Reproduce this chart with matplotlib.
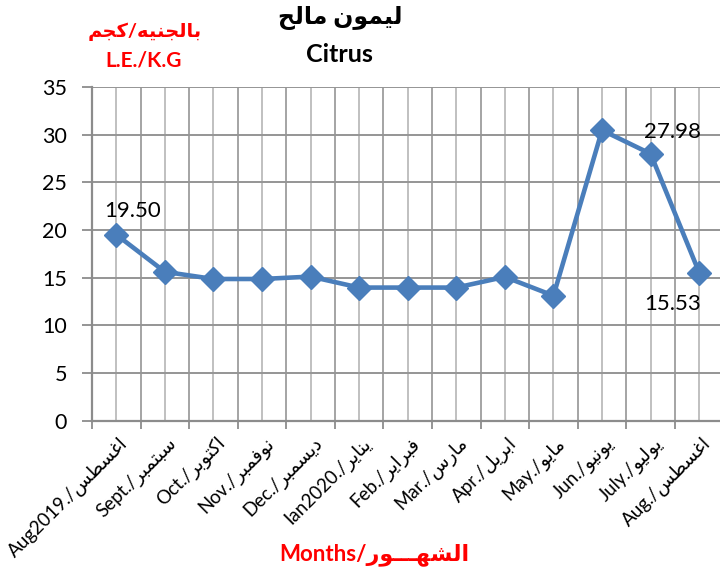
import numpy as np
import matplotlib
matplotlib.use("Agg")
import matplotlib.pyplot as plt
from matplotlib.ticker import MultipleLocator, FixedLocator

# DATA
months_en = ["Aug2019.", "Sept.", "Oct.", "Nov.", "Dec.", "Ian2020.", "Feb.",
             "Mar.", "Apr.", "May.", "Jun.", "July.", "Aug."]
months_ar = ["اغسطس", "سبتمبر", "اكتوبر", "نوفمبر", "ديسمبر", "يناير", "فبراير",
             "مارس", "ابريل", "مايو", "يونيو", "يوليو", "اغسطس"]
prices = [19.50, 15.60, 14.85, 14.85, 15.10, 13.95, 13.95,
          13.95, 15.07, 13.10, 30.45, 27.98, 15.53]
labelled = {0: "19.50", 11: "27.98", 12: "15.53"}

# minimal arabic shaping (no reshaper lib here): isolated, final, initial, medial
FORMS = {
    "ا": (0xFE8D, 0xFE8E, None, None), "ب": (0xFE8F, 0xFE90, 0xFE91, 0xFE92),
    "ت": (0xFE95, 0xFE96, 0xFE97, 0xFE98), "ج": (0xFE9D, 0xFE9E, 0xFE9F, 0xFEA0),
    "ح": (0xFEA1, 0xFEA2, 0xFEA3, 0xFEA4), "د": (0xFEA9, 0xFEAA, None, None),
    "ر": (0xFEAD, 0xFEAE, None, None), "س": (0xFEB1, 0xFEB2, 0xFEB3, 0xFEB4),
    "ش": (0xFEB5, 0xFEB6, 0xFEB7, 0xFEB8), "ط": (0xFEC1, 0xFEC2, 0xFEC3, 0xFEC4),
    "غ": (0xFECD, 0xFECE, 0xFECF, 0xFED0), "ف": (0xFED1, 0xFED2, 0xFED3, 0xFED4),
    "ك": (0xFED9, 0xFEDA, 0xFEDB, 0xFEDC), "ل": (0xFEDD, 0xFEDE, 0xFEDF, 0xFEE0),
    "م": (0xFEE1, 0xFEE2, 0xFEE3, 0xFEE4), "ن": (0xFEE5, 0xFEE6, 0xFEE7, 0xFEE8),
    "ه": (0xFEE9, 0xFEEA, 0xFEEB, 0xFEEC), "و": (0xFEED, 0xFEEE, None, None),
    "ي": (0xFEF1, 0xFEF2, 0xFEF3, 0xFEF4),
}
TATWEEL = "ـ"


def dual(c):
    return c == TATWEEL or (c in FORMS and FORMS[c][2] is not None)


def joinable(c):
    return c == TATWEEL or c in FORMS


def ar(s):
    out = []
    for i, c in enumerate(s):
        if c not in FORMS:
            out.append(c)
            continue
        prev_j = i > 0 and dual(s[i - 1])
        next_j = dual(c) and i + 1 < len(s) and joinable(s[i + 1])
        iso, fin, ini, med = FORMS[c]
        if prev_j and next_j:
            code = med
        elif prev_j:
            code = fin
        elif next_j:
            code = ini
        else:
            code = iso
        out.append(chr(code))
    # visual order, right to left
    return "".join(out)[::-1]


plt.rcParams["font.family"] = ["Lato", "DejaVu Sans"]

fig = plt.figure(figsize=(7.2, 5.75), dpi=100)
ax = fig.add_axes([0.1278, 0.2685, 0.877, 0.5805])

x = np.arange(len(prices))
ax.plot(x, prices, color="#4a7ebb", lw=3.3, marker="D", ms=12,
        mfc="#4a7ebb", mec="#4a7ebb", zorder=5, clip_on=False)

ax.set_xlim(-0.5, len(prices) - 0.5)
ax.set_ylim(0, 35)
ax.yaxis.set_major_locator(MultipleLocator(5))
ax.xaxis.set_major_locator(FixedLocator(np.arange(-0.5, len(prices), 1.0)))
ax.xaxis.set_minor_locator(FixedLocator(x))
ax.set_xticklabels([])

ax.grid(axis="y", color="#959595", lw=1.4)
ax.grid(axis="x", which="major", color="#a4a4a4", lw=1.4)
ax.grid(axis="x", which="minor", color="#c0c0c0", lw=1.4)
ax.set_axisbelow(True)

for side in ["top", "right"]:
    ax.spines[side].set_visible(False)
for side in ["left", "bottom"]:
    ax.spines[side].set_color("#8c8c8c")
    ax.spines[side].set_linewidth(1.6)

ax.tick_params(axis="y", which="major", length=7, width=1.3, color="#8c8c8c",
               labelsize=15.5, pad=11)
ax.tick_params(axis="x", which="major", length=6, width=1.3, color="#8c8c8c",
               direction="out")
ax.tick_params(axis="x", which="minor", length=0)

for i in x:
    lbl = months_en[i] + "/" + ar(months_ar[i])
    ax.text(i + 0.05, -1.4, lbl, rotation=45, rotation_mode="anchor",
            ha="right", va="top", fontsize=13.5, color="black")

# data labels
ax.annotate(labelled[0], (0, prices[0]), xytext=(12, 17), textcoords="offset points",
            ha="center", va="center", fontsize=16)
ax.annotate(labelled[11], (11, prices[11]), xytext=(16, 16), textcoords="offset points",
            ha="center", va="center", fontsize=16)
ax.annotate(labelled[12], (12, prices[12]), xytext=(-19, -23), textcoords="offset points",
            ha="center", va="center", fontsize=16)

# titles and axis captions
fig.text(0.472, 0.968, ar("ليمون مالح"), ha="center", va="center",
         fontsize=17, fontweight="bold")
fig.text(0.472, 0.906, "Citrus", ha="center", va="center",
         fontsize=18, fontweight="bold")
fig.text(0.201, 0.945, ar("بالجنيه/كجم"), ha="center", va="center",
         fontsize=14, fontweight="bold", color="red")
fig.text(0.199, 0.895, "L.E./K.G", ha="center", va="center",
         fontsize=15, fontweight="bold", color="red")
fig.text(0.52, 0.035, "Months/" + ar("الشهـــور"), ha="center", va="center",
         fontsize=16, fontweight="bold", color="red")

fig.savefig("out.png", dpi=100)
